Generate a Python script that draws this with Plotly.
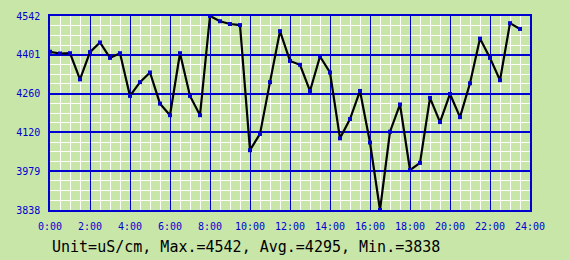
import plotly.graph_objects as go

hours = [i * 0.5 for i in range(48)]
values = [4412, 4406, 4407, 4312, 4411, 4446, 4390, 4407,
          4252, 4302, 4337, 4224, 4182, 4407, 4252, 4182,
          4542, 4523, 4513, 4509, 4055, 4114, 4302, 4487,
          4379, 4365, 4270, 4395, 4337, 4098, 4168, 4270,
          4083, 3838, 4122, 4221, 3983, 4009, 4245, 4157,
          4259, 4175, 4298, 4460, 4390, 4309, 4516, 4495]
x_tickvals = [0, 2, 4, 6, 8, 10, 12, 14, 16, 18, 20, 22, 24]
x_ticktext = ["0:00", "2:00", "4:00", "6:00", "8:00", "10:00", "12:00",
              "14:00", "16:00", "18:00", "20:00", "22:00", "24:00"]
y_tickvals = [3838, 3978.8, 4119.6, 4260.4, 4401.2, 4542]
y_ticktext = ["3838", "3979", "4120", "4260", "4401", "4542"]
footer = "Unit=uS/cm, Max.=4542, Avg.=4295, Min.=3838"

BG = "#c8e6a8"
BLUE = "#0000d0"

fig = go.Figure()
fig.add_trace(go.Scatter(
    x=hours, y=values, mode="lines+markers",
    line=dict(color="black", width=2.2),
    marker=dict(symbol="square", size=4, color=BLUE),
    hoverinfo="skip",
))

fig.update_layout(
    width=570, height=260,
    margin=dict(l=50, r=40, t=10, b=50),
    paper_bgcolor=BG, plot_bgcolor=BG,
    showlegend=False,
    font=dict(family="DejaVu Sans Mono", color=BLUE, size=10),
    annotations=[dict(
        text=footer, xref="paper", yref="paper", x=0, y=-0.19,
        xanchor="left", yanchor="middle", showarrow=False,
        font=dict(family="DejaVu Sans Mono", size=15, color="black"),
    )],
)
fig.update_xaxes(
    range=[0, 24], tickmode="array", tickvals=x_tickvals, ticktext=x_ticktext,
    showgrid=True, gridcolor=BLUE, gridwidth=1,
    minor=dict(dtick=0.5, tick0=0, showgrid=True, gridcolor="white", gridwidth=1),
    showline=True, linecolor=BLUE, linewidth=1.5, mirror=True,
    ticks="", ticklabelstandoff=6, zeroline=False,
)
fig.update_yaxes(
    range=[3838, 4542], tickmode="array", tickvals=y_tickvals, ticktext=y_ticktext,
    showgrid=True, gridcolor=BLUE, gridwidth=1.5,
    minor=dict(dtick=35.2, tick0=3838, showgrid=True, gridcolor="white", gridwidth=1),
    showline=True, linecolor=BLUE, linewidth=1.5, mirror=True,
    ticks="", ticklabelstandoff=6, zeroline=False,
)

fig.write_html("out.html")
